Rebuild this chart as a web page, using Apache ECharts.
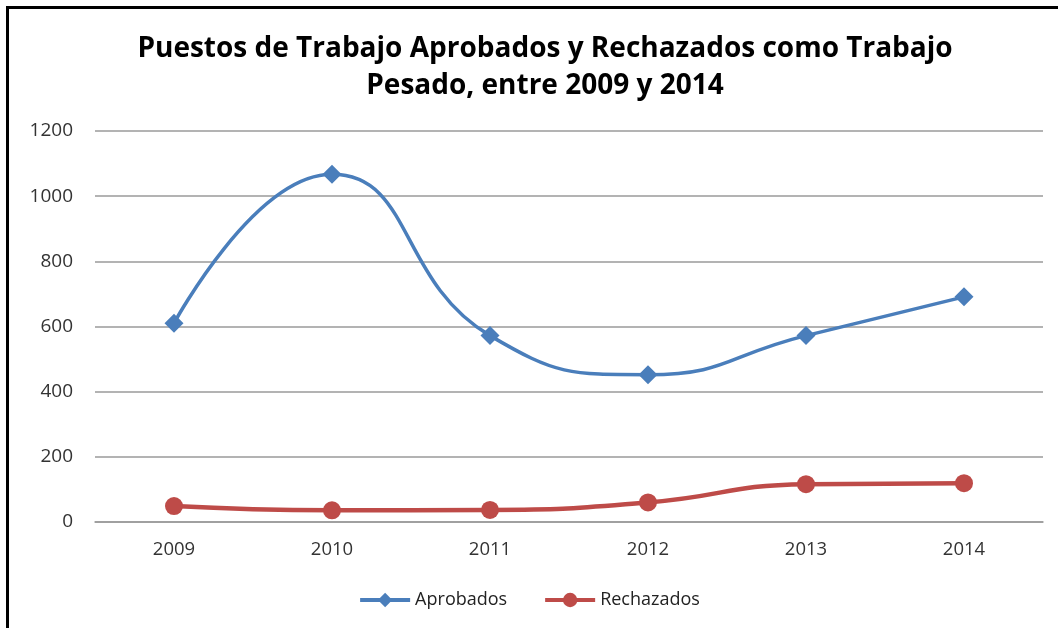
<!DOCTYPE html>
<html>
<head>
<meta charset="utf-8">
<script src="https://cdn.jsdelivr.net/npm/echarts@6/dist/echarts.min.js"></script>
<style>
  html, body { margin: 0; padding: 0; background: #fff; }
  #main { width: 1058px; height: 628px; }
</style>
</head>
<body>
<div id="main"></div>
<script>
// datos
var years = ['2009', '2010', '2011', '2012', '2013', '2014']
var aprobados = [610, 1067, 572, 452, 572, 691]
var rechazados = [49, 36, 37, 60, 116, 119]
var yTicks = { min: 0, max: 1200, interval: 200 }

var mychart = echarts.init(document.getElementById('main'))
var labelFont = '"Open Sans", "Liberation Sans", sans-serif'
var option = {
  animation: false,
  backgroundColor: '#fff',
  title: {
    text: 'Puestos de Trabajo Aprobados y Rechazados como Trabajo\nPesado, entre 2009 y 2014',
    left: 540,
    textAlign: 'center',
    top: 26,
    textStyle: {
      fontFamily: labelFont,
      fontWeight: 'bold',
      fontSize: 28,
      lineHeight: 37,
      color: '#000'
    }
  },
  // marco del grafico (recortado a la derecha y abajo)
  graphic: [{
    type: 'rect',
    shape: { x: 7.5, y: 7.5, width: 1200, height: 800 },
    style: { fill: 'none', stroke: '#000', lineWidth: 3 }
  }],
  legend: {
    bottom: 14,
    left: 'center',
    itemWidth: 50,
    itemHeight: 18,
    itemGap: 36,
    lineStyle: { width: 4 },
    textStyle: { fontFamily: labelFont, fontSize: 18, color: '#222' },
    data: ['Aprobados', 'Rechazados']
  },
  grid: {
    left: 95,
    right: 15,
    top: 131,
    bottom: 106
  },
  xAxis: {
    type: 'category',
    data: years,
    axisTick: { show: false },
    axisLine: { lineStyle: { color: '#9a9a9a', width: 1.5 } },
    axisLabel: { fontFamily: labelFont, fontSize: 18.5, color: '#333', margin: 18 }
  },
  yAxis: {
    type: 'value',
    min: yTicks.min,
    max: yTicks.max,
    interval: yTicks.interval,
    axisLine: { show: false },
    axisTick: { show: false },
    axisLabel: {
      fontFamily: labelFont, fontSize: 19, color: '#333', margin: 22,
      formatter: function (v) { return String(v) }
    },
    splitLine: { lineStyle: { color: '#9a9a9a', width: 1.5 } }
  },
  series: [
    {
      name: 'Aprobados',
      type: 'line',
      smooth: 0.5,
      data: aprobados,
      symbol: 'diamond',
      symbolSize: 19,
      color: '#4a7ebb',
      lineStyle: { width: 3.5, color: '#4a7ebb' },
      itemStyle: { color: '#4a7ebb' }
    },
    {
      name: 'Rechazados',
      type: 'line',
      smooth: 0.5,
      data: rechazados,
      symbol: 'circle',
      symbolSize: 18,
      color: '#be4b48',
      lineStyle: { width: 4.5, color: '#be4b48' },
      itemStyle: { color: '#be4b48' }
    }
  ]
}
mychart.setOption(option)
</script>
</body>
</html>
